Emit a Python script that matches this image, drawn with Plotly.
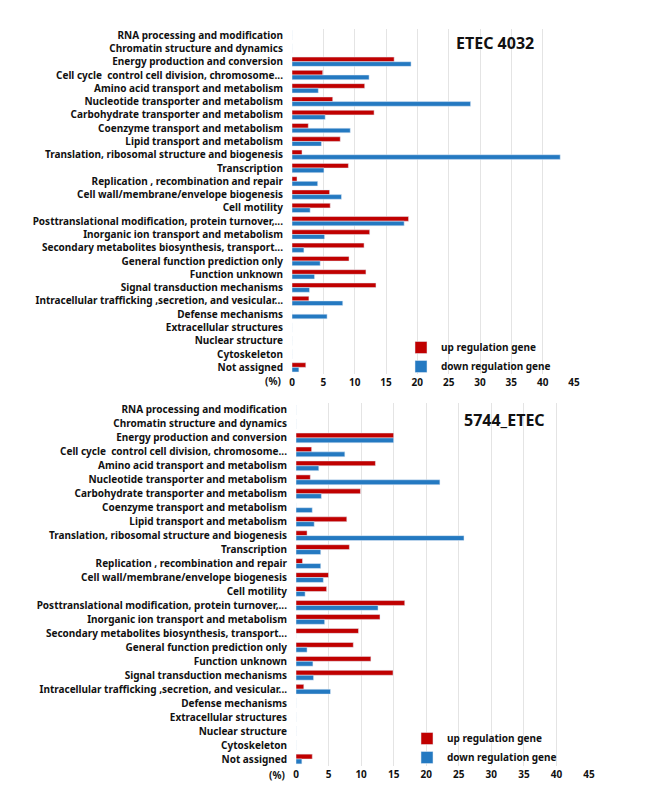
import plotly.graph_objects as go

categories = [
    "RNA processing and modification",
    "Chromatin structure and dynamics",
    "Energy production and conversion",
    "Cell cycle  control cell division, chromosome...",
    "Amino acid transport and metabolism",
    "Nucleotide transporter and metabolism",
    "Carbohydrate transporter and metabolism",
    "Coenzyme transport and metabolism",
    "Lipid transport and metabolism",
    "Translation, ribosomal structure and biogenesis",
    "Transcription",
    "Replication , recombination and repair",
    "Cell wall/membrane/envelope biogenesis",
    "Cell motility",
    "Posttranslational modification, protein turnover,...",
    "Inorganic ion transport and metabolism",
    "Secondary metabolites biosynthesis, transport...",
    "General function prediction only",
    "Function unknown",
    "Signal transduction mechanisms",
    "Intracellular trafficking ,secretion, and vesicular...",
    "Defense mechanisms",
    "Extracellular structures",
    "Nuclear structure",
    "Cytoskeleton",
    "Not assigned",
]

etec4032_up = [0, 0, 16.3, 4.9, 11.6, 6.5, 13.1, 2.6, 7.7, 1.6, 9.0, 0.8, 6.0, 6.1,
               18.6, 12.4, 11.5, 9.1, 11.8, 13.4, 2.7, 0, 0, 0, 0, 2.2]
etec4032_down = [0, 0, 19.0, 12.3, 4.2, 28.5, 5.3, 9.3, 4.7, 42.8, 5.1, 4.1, 7.9, 2.9,
                 17.9, 5.2, 1.9, 4.5, 3.6, 2.8, 8.1, 5.6, 0, 0, 0, 1.1]

etec5744_up = [0, 0, 15.0, 2.4, 12.2, 2.2, 9.9, 0, 7.8, 1.7, 8.2, 1.0, 5.0, 4.7,
               16.7, 12.9, 9.6, 8.8, 11.5, 14.9, 1.2, 0, 0, 0, 0, 2.5]
etec5744_down = [0, 0, 15.0, 7.5, 3.5, 22.1, 3.9, 2.5, 2.8, 25.8, 3.8, 3.8, 4.2, 1.4,
                 12.6, 4.4, 0, 1.7, 2.6, 2.7, 5.3, 0, 0, 0, 0, 0.9]

x_ticks = [0, 5, 10, 15, 20, 25, 30, 35, 40, 45]
series_names = ["up regulation gene", "down regulation gene"]
panel_titles = ["ETEC 4032", "5744_ETEC"]

RED = "#C00000"
BLUE = "#2479C1"
FONT = "Noto Sans"
OFF = 8  # page body margin
W, H = 663 - OFF, 791 - OFF

fig = go.Figure()

fig.add_trace(go.Bar(y=categories, x=etec4032_up, orientation="h", name=series_names[0],
                     marker_color=RED, xaxis="x", yaxis="y", legend="legend"))
fig.add_trace(go.Bar(y=categories, x=etec4032_down, orientation="h", name=series_names[1],
                     marker_color=BLUE, xaxis="x", yaxis="y", legend="legend"))
fig.add_trace(go.Bar(y=categories, x=etec5744_up, orientation="h", name=series_names[0],
                     marker_color=RED, xaxis="x2", yaxis="y2", legend="legend2"))
fig.add_trace(go.Bar(y=categories, x=etec5744_down, orientation="h", name=series_names[1],
                     marker_color=BLUE, xaxis="x2", yaxis="y2", legend="legend2"))

tickfont = dict(family=FONT, size=10, color="#111111", weight="bold")

def xaxis(domain, anchor):
    return dict(domain=domain, anchor=anchor, range=[0, 45], tickvals=x_ticks,
                showgrid=True, gridcolor="#e4e4e4", gridwidth=1, zeroline=False,
                showline=False, ticks="", tickfont=tickfont, ticklabelstandoff=1,
                fixedrange=True, automargin=False)

def yaxis(domain, anchor):
    return dict(domain=domain, anchor=anchor, autorange="reversed", type="category",
                showgrid=False, zeroline=False, showline=False, ticks="",
                tickfont=tickfont, ticklabelstandoff=8, fixedrange=True, automargin=False)

def px_x(v):
    return (v - OFF) / W

def px_y(v):
    return 1 - (v - OFF) / H

legfont = dict(family=FONT, size=10, color="#111111", weight="bold")

fig.update_layout(
    width=W, height=H,
    margin=dict(l=0, r=0, t=0, b=0, autoexpand=False),
    paper_bgcolor="white", plot_bgcolor="white",
    barmode="group", bargap=0.3, bargroupgap=0,
    xaxis=xaxis([px_x(292), px_x(574)], "y"),
    yaxis=yaxis([px_y(374), px_y(28.5)], "x"),
    xaxis2=xaxis([px_x(296), px_x(589)], "y2"),
    yaxis2=yaxis([px_y(766), px_y(403)], "x2"),
    legend=dict(x=px_x(401), y=px_y(333), xanchor="left", yanchor="top",
                bgcolor="rgba(0,0,0,0)", font=legfont, itemwidth=30, tracegroupgap=0),
    legend2=dict(x=px_x(407), y=px_y(724), xanchor="left", yanchor="top",
                 bgcolor="rgba(0,0,0,0)", font=legfont, itemwidth=30, tracegroupgap=0),
    annotations=[
        dict(text=panel_titles[0], x=px_x(495), y=px_y(43), xref="paper", yref="paper",
             xanchor="center", yanchor="middle", showarrow=False,
             font=dict(family=FONT, size=16, color="#111111", weight="bold")),
        dict(text=panel_titles[1], x=px_x(505), y=px_y(420), xref="paper", yref="paper",
             xanchor="center", yanchor="middle", showarrow=False,
             font=dict(family=FONT, size=16, color="#111111", weight="bold")),
        dict(text="(%)", x=px_x(273), y=px_y(381), xref="paper", yref="paper",
             xanchor="center", yanchor="middle", showarrow=False, font=tickfont),
        dict(text="(%)", x=px_x(277), y=px_y(775), xref="paper", yref="paper",
             xanchor="center", yanchor="middle", showarrow=False, font=tickfont),
    ],
)

fig.write_html("out.html")
